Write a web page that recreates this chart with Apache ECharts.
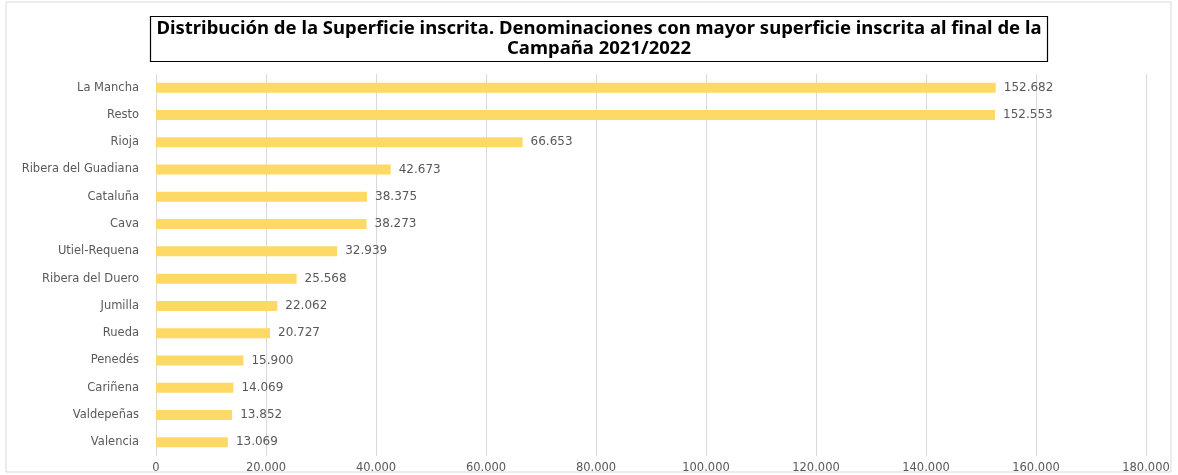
<!DOCTYPE html>
<html lang="es">
<head>
<meta charset="UTF-8">
<script src="https://cdn.jsdelivr.net/npm/echarts@6/dist/echarts.min.js"></script>
<title>Superficie inscrita</title>
<style>
  html, body { margin: 0; padding: 0; background: #fff; }
</style>
</head>
<body>
<div id="main" style="width:1178px;height:475px;"></div>
<script type="text/javascript">
// denominaciones, de mayor a menor superficie
var categorias = ['La Mancha', 'Resto', 'Rioja', 'Ribera del Guadiana', 'Cataluña', 'Cava',
    'Utiel-Requena', 'Ribera del Duero', 'Jumilla', 'Rueda', 'Penedés', 'Cariñena',
    'Valdepeñas', 'Valencia'];
// superficie inscrita (ha)
var superficie = [152682, 152553, 66653, 42673, 38375, 38273, 32939, 25568, 22062,
    20727, 15900, 14069, 13852, 13069];
var ejeMin = 0, ejeMax = 180000, ejeIntervalo = 20000;

function miles(v) {
    return String(Math.round(v)).replace(/\B(?=(\d{3})+(?!\d))/g, '.');
}

var myChart = echarts.init(document.getElementById('main'));

var option = {
    backgroundColor: '#fff',
    textStyle: { fontFamily: 'DejaVu Sans' },
    graphic: [
        {
            type: 'rect',
            shape: { x: 6, y: 2, width: 1165, height: 470 },
            style: { fill: 'none', stroke: '#d9d9d9', lineWidth: 1 }
        },
        {
            type: 'rect',
            shape: { x: 150.5, y: 16.5, width: 897, height: 45 },
            style: { fill: '#fff', stroke: '#000', lineWidth: 1.2 },
            z: 10
        },
        {
            type: 'text',
            x: 599,
            y: 39,
            z: 11,
            style: {
                text: 'Distribución de la Superficie inscrita. Denominaciones con mayor superficie inscrita al final de la\nCampaña 2021/2022',
                align: 'center',
                verticalAlign: 'middle',
                font: 'bold 18.5px "Noto Sans"',
                lineHeight: 20,
                fill: '#000'
            }
        }
    ],
    grid: { left: 156, right: 32, top: 74, bottom: 19, containLabel: false },
    xAxis: {
        type: 'value',
        min: ejeMin,
        max: ejeMax,
        interval: ejeIntervalo,
        axisLine: { show: false },
        axisTick: { show: false },
        splitLine: { lineStyle: { color: '#d9d9d9', width: 1 } },
        axisLabel: {
            color: '#595959',
            fontSize: 11.5,
            margin: 6,
            formatter: function (v) { return miles(v); }
        }
    },
    yAxis: {
        type: 'category',
        data: categorias,
        inverse: true,
        axisLine: { show: false },
        axisTick: { show: false },
        axisLabel: { color: '#595959', fontSize: 11.5, margin: 17 }
    },
    series: [{
        type: 'bar',
        data: superficie,
        barWidth: 10,
        itemStyle: { color: '#FFD966' },
        label: {
            show: true,
            position: 'right',
            distance: 8,
            color: '#595959',
            fontSize: 12,
            formatter: function (p) { return miles(p.value); }
        },
        silent: true
    }]
};

myChart.setOption(option);
</script>
</body>
</html>
